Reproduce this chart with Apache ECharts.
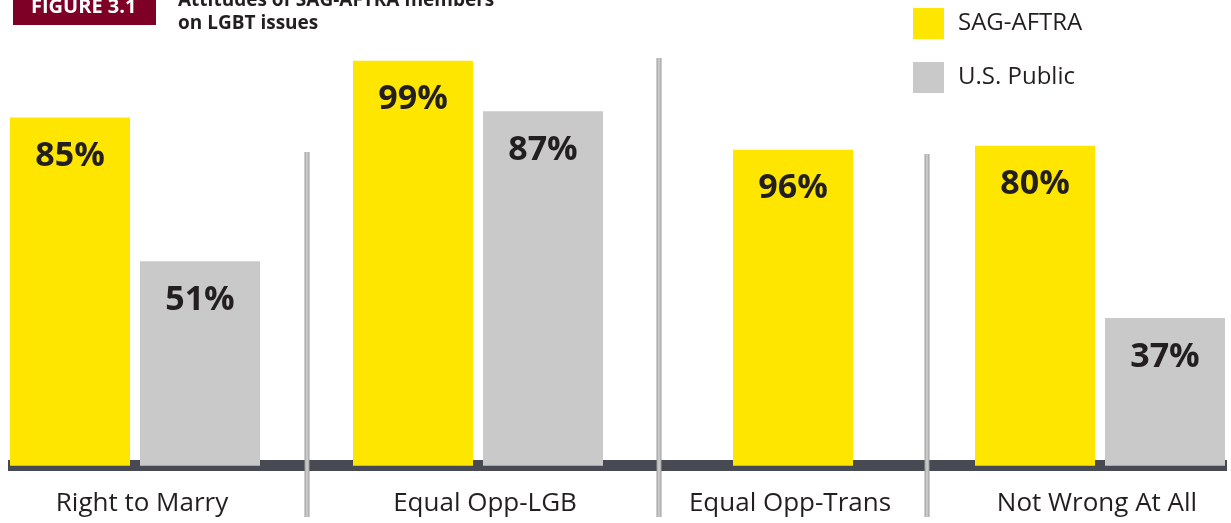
<!DOCTYPE html>
<html>
<head>
<meta charset="utf-8">
<script src="https://cdn.jsdelivr.net/npm/echarts@6/dist/echarts.min.js"></script>
<style>
html,body{margin:0;padding:0;background:#fff;}
#chart{width:1231px;height:523px;}
</style>
</head>
<body>
<div id="chart"></div>
<script>
// Data
var categories = ['Right to Marry', 'Equal Opp-LGB', 'Equal Opp-Trans', 'Not Wrong At All'];
var sagValues = [85, 99, 96, 80];          // printed labels (%)
var publicValues = [51, 87, null, 37];     // printed labels (%)
var sagHeights = [86, 100, 78, 79];        // bar heights as drawn in the picture
var publicHeights = [50.5, 87.5, null, 36.5];
var seriesNames = ['SAG-AFTRA', 'U.S. Public'];

var YELLOW = '#ffe600', GRAY = '#c8c9c8', DARK = '#231f20';
var FONT = 'Open Sans';

var chart = echarts.init(document.getElementById('chart'));

var groupGrids = [
  {left: 10, width: 250, shift: 7},
  {left: 353, width: 250, shift: 7},
  {left: 733, width: 120, shift: -3},
  {left: 975, width: 250, shift: -3}
];
var gridTop = 60.7, gridHeight = 405;

var grids = [], xAxes = [], yAxes = [], series = [];
groupGrids.forEach(function (g, i) {
  grids.push({left: g.left, width: g.width, top: gridTop, height: gridHeight});
  var pad = g.shift >= 0 ? [0, 0, 0, 2 * g.shift] : [0, -2 * g.shift, 0, 0];
  xAxes.push({
    gridIndex: i, type: 'category', data: [categories[i]],
    axisLine: {show: false}, axisTick: {show: false}, splitLine: {show: false},
    axisLabel: {interval: 0, margin: 25, fontSize: 26, color: DARK, fontFamily: FONT, padding: pad}
  });
  yAxes.push({gridIndex: i, type: 'value', min: 0, max: 100, show: false});
  var lbl = function (vals) {
    return {
      show: true, position: 'insideTop', distance: 22,
      fontFamily: FONT, fontWeight: 'bold', fontSize: 34, color: DARK,
      formatter: function () { return vals[i] + '%'; }
    };
  };
  series.push({
    name: seriesNames[0], type: 'bar', xAxisIndex: i, yAxisIndex: i,
    barWidth: 120, barGap: '8.33%', itemStyle: {color: YELLOW},
    data: [sagHeights[i]], label: lbl(sagValues), silent: true
  });
  if (publicHeights[i] != null) {
    series.push({
      name: seriesNames[1], type: 'bar', xAxisIndex: i, yAxisIndex: i,
      barWidth: 120, barGap: '8.33%', itemStyle: {color: GRAY},
      data: [publicHeights[i]], label: lbl(publicValues), silent: true
    });
  }
});
// baseline grid
grids.push({left: 8, width: 1219, top: gridTop, height: gridHeight});
xAxes.push({
  gridIndex: 4, type: 'category', data: [''], offset: 5.5,
  axisLine: {show: true, lineStyle: {color: '#474a52', width: 11, cap: 'butt'}},
  axisTick: {show: false}, axisLabel: {show: false}
});
yAxes.push({gridIndex: 4, type: 'value', min: 0, max: 100, show: false});

function divider(x, y1) {
  return {
    type: 'rect', z: 100,
    shape: {x: x, y: y1, width: 5, height: 517 - y1},
    style: {fill: new echarts.graphic.LinearGradient(0, 0, 1, 0, [
      {offset: 0, color: '#9c9c9c'}, {offset: 0.5, color: '#d2d2d2'}, {offset: 1, color: '#9c9c9c'}
    ])}
  };
}

chart.setOption({
  animation: false,
  backgroundColor: '#ffffff',
  grid: grids, xAxis: xAxes, yAxis: yAxes, series: series,
  legend: {
    data: seriesNames, orient: 'vertical', left: 913, top: 8, padding: 0,
    icon: 'rect', itemWidth: 31, itemHeight: 31, itemGap: 23,
    selectedMode: false,
    textStyle: {fontFamily: FONT, fontSize: 24, color: DARK, padding: [10, 0, 0, 9]}
  },
  graphic: [
    {type: 'rect', shape: {x: 13, y: 0, width: 143, height: 25}, style: {fill: '#7f0026'}},
    {type: 'text', left: 31, top: -3, style: {text: 'FIGURE 3.1', fill: '#ffffff',
      font: 'bold 20px "Open Sans"'}},
    {type: 'text', left: 178, top: -11, style: {text: 'Attitudes of SAG-AFTRA members\non LGBT issues',
      fill: DARK, font: 'bold 19px "Open Sans"', lineHeight: 23}},
    divider(304.5, 152),
    divider(656.5, 58),
    divider(924.5, 154)
  ]
});
</script>
</body>
</html>
